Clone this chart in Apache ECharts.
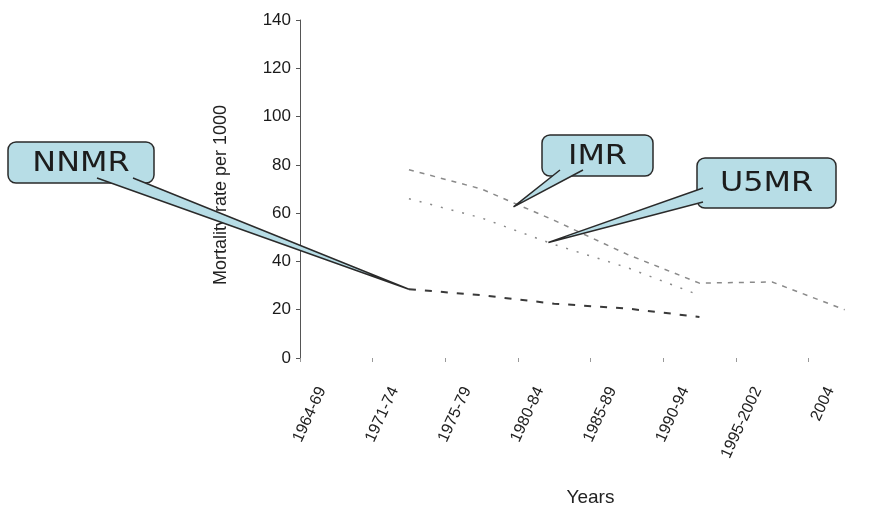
<!DOCTYPE html>
<html>
<head>
<meta charset="utf-8">
<script src="https://cdn.jsdelivr.net/npm/echarts@6/dist/echarts.min.js"></script>
<style>
  html, body { margin: 0; padding: 0; background: #ffffff; }
  #chart { width: 871px; height: 510px; }
</style>
</head>
<body>
<div id="chart"></div>
<script>
// Survey periods and mortality rates (deaths per 1000)
const categories = ['1964-69', '1971-74', '1975-79', '1980-84', '1985-89', '1990-94', '1995-2002', '2004'];
const imr  = [null, 78, 70, 57, 43, 31, 31.5, 20];
const u5mr = [null, 66, 58, 47, 37.5, 26, null, null];
const nnmr = [null, 28.5, 26, 22.5, 20.5, 17, null, null];
const yMin = 0, yMax = 140, yStep = 20;

const chart = echarts.init(document.getElementById('chart'), null, { renderer: 'canvas' });

const textFont = 'Liberation Sans, Arial, sans-serif';

chart.setOption({
  backgroundColor: '#ffffff',
  animation: false,
  grid: { left: 300, top: 20, width: 581, height: 338, outerBoundsMode: 'none', containLabel: false },
  xAxis: {
    type: 'category',
    data: categories,
    boundaryGap: true,
    name: 'Years',
    nameLocation: 'middle',
    nameGap: 130,
    nameTextStyle: { fontFamily: textFont, fontSize: 19, color: '#222' },
    axisLine: { show: false },
    axisTick: { show: true, length: 4, lineStyle: { color: '#999', width: 1 } },
    axisLabel: {
      rotate: 65,
      interval: 0,
      margin: 30,
      verticalAlign: 'bottom',
      padding: [0, 6, 5, 0],
      fontFamily: textFont,
      fontSize: 16,
      color: '#222'
    },
    splitLine: { show: false }
  },
  yAxis: {
    type: 'value',
    min: yMin,
    max: yMax,
    interval: yStep,
    name: 'Mortality rate per 1000',
    nameLocation: 'middle',
    nameGap: 70,
    nameRotate: 90,
    nameTextStyle: { fontFamily: textFont, fontSize: 18, color: '#222', padding: [0, 12, 0, 0] },
    axisLine: { show: true, lineStyle: { color: '#555', width: 1 } },
    axisTick: { show: true, length: 4, lineStyle: { color: '#555' } },
    axisLabel: { margin: 9, fontFamily: textFont, fontSize: 17, color: '#1a1a1a' },
    splitLine: { show: false }
  },
  series: [
    {
      name: 'IMR', type: 'line', data: imr, symbol: 'none', connectNulls: false,
      lineStyle: { color: '#8a8a8a', width: 1.5, type: [5, 6] }
    },
    {
      name: 'U5MR', type: 'line', data: u5mr, symbol: 'none', connectNulls: false,
      lineStyle: { color: '#8a8a8a', width: 1.5, type: [2, 9] }
    },
    {
      name: 'NNMR', type: 'line', data: nnmr, symbol: 'none', connectNulls: false,
      lineStyle: { color: '#3a3a3a', width: 2, type: [7, 9] }
    }
  ]
});

// Pixel position on a series line, interpolated between two categories
function onLine(values, i, frac) {
  const a = chart.convertToPixel({ gridIndex: 0 }, [i, values[i]]);
  if (!frac) return a;
  const b = chart.convertToPixel({ gridIndex: 0 }, [i + 1, values[i + 1]]);
  return [a[0] + (b[0] - a[0]) * frac, a[1] + (b[1] - a[1]) * frac];
}

const boxFill = '#b7dde6';
const boxStroke = '#2a2a2a';

// Speech-bubble label: rounded box with a wedge pointing at the line
function callout(box, baseA, baseB, tip, label, z) {
  return [
    {
      type: 'rect', z: z,
      shape: { x: box.x, y: box.y, width: box.w, height: box.h, r: 8 },
      style: { fill: boxFill, stroke: boxStroke, lineWidth: 1.5 }
    },
    {
      type: 'polygon', z: z + 1,
      shape: { points: [baseA, tip, baseB] },
      style: { fill: boxFill, stroke: null }
    },
    {
      type: 'polyline', z: z + 2,
      shape: { points: [baseA, tip, baseB] },
      style: { fill: null, stroke: boxStroke, lineWidth: 1.5 }
    },
    {
      type: 'text', z: z + 3,
      x: box.x + box.w / 2, y: box.y + box.h / 2 + 1,
      scaleX: 1.18,
      style: {
        text: label, x: 0, y: 0,
        font: '27px "DejaVu Sans", Verdana, sans-serif',
        fill: '#1c1c1c', align: 'center', verticalAlign: 'middle'
      }
    }
  ];
}

const nnTip = onLine(nnmr, 1, 0);
const imTip = onLine(imr, 2, 0.44);
const u5Tip = onLine(u5mr, 2, 0.92);

chart.setOption({
  graphic: [
    ...callout({ x: 8, y: 142, w: 146, h: 41 }, [97, 178], [133, 178], nnTip, 'NNMR', 100),
    ...callout({ x: 542, y: 135, w: 111, h: 41 }, [560, 170], [583, 170], [imTip[0], imTip[1] + 4], 'IMR', 110),
    ...callout({ x: 697, y: 158, w: 139, h: 50 }, [703, 188], [703, 202], u5Tip, 'U5MR', 120)
  ]
});
</script>
</body>
</html>
